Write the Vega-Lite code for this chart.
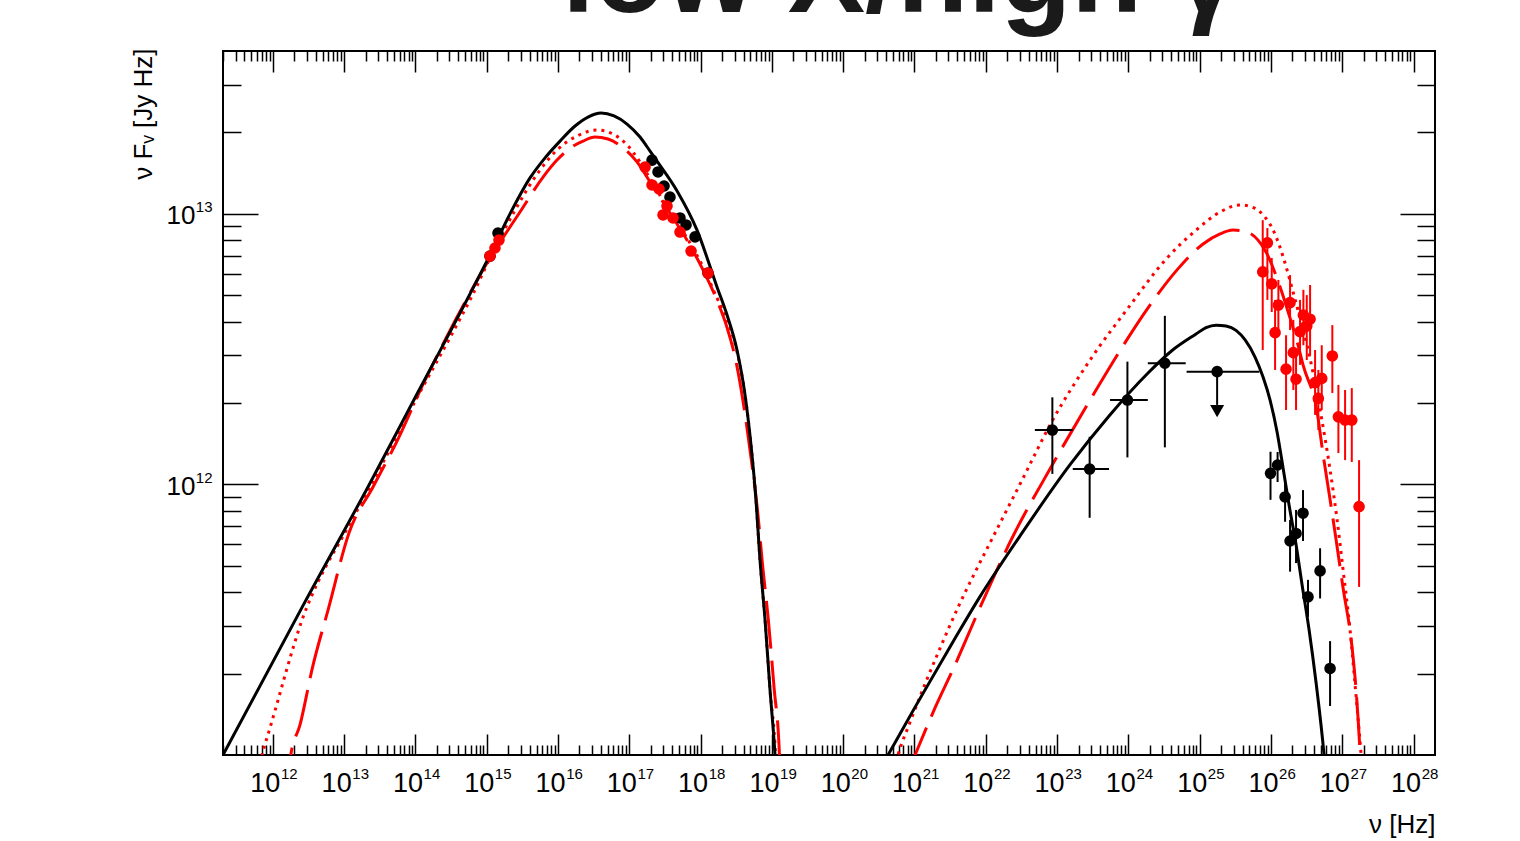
{
  "$schema": "https://vega.github.io/schema/vega-lite/v6.json",
  "width": 1212,
  "height": 704,
  "autosize": {"type": "none"},
  "padding": {"left": 223, "top": 51, "right": 85, "bottom": 86},
  "background": "white",
  "config": {
    "font": "Liberation Sans",
    "view": {"stroke": "black", "strokeWidth": 2},
    "axis": {"domain": false, "grid": false, "labelFont": "Liberation Sans", "labelColor": "black", "tickColor": "black", "tickWidth": 1.5, "titleFont": "Liberation Sans", "titleFontWeight": "normal", "titleColor": "black", "labelOverlap": false, "labelFlush": false, "labelBound": false}
  },
  "datasets": {
    "dashed": [
      {"c":"s","nu":1.660e12,"F":7.08e10},{"c":"s","nu":1.786e12,"F":1e11},{"c":"s","nu":2.404e12,"F":1.291e11},{"c":"s","nu":3.61e12,"F":2.113e11},{"c":"s","nu":6.05e12,"F":3.49e11},{"c":"s","nu":1.17e13,"F":6.62e11},{"c":"s","nu":2.54e13,"F":9.79e11},{"c":"s","nu":5.61e13,"F":1.459e12},{"c":"s","nu":1.225e14,"F":2.29e12},{"c":"s","nu":3.66e14,"F":4.06e12},{"c":"s","nu":1.112e15,"F":6.87e12},{"c":"s","nu":2.93e15,"F":1.016e13},{"c":"s","nu":6.17e15,"F":1.368e13},{"c":"s","nu":9.68e15,"F":1.581e13},{"c":"s","nu":1.472e16,"F":1.750e13},{"c":"s","nu":2.244e16,"F":1.858e13},{"c":"s","nu":3.30e16,"F":1.923e13},{"c":"s","nu":5.02e16,"F":1.892e13},{"c":"s","nu":7.91e16,"F":1.766e13},{"c":"s","nu":1.282e17,"F":1.556e13},{"c":"s","nu":1.954e17,"F":1.312e13},{"c":"s","nu":3.72e17,"F":1.007e13},{"c":"s","nu":6.44e17,"F":8.00e12},{"c":"s","nu":1.081e18,"F":6.21e12},{"c":"s","nu":1.698e18,"F":4.79e12},{"c":"s","nu":2.35e18,"F":3.80e12},{"c":"s","nu":3.162e18,"F":2.818e12},{"c":"s","nu":3.98e18,"F":1.995e12},{"c":"s","nu":5.09e18,"F":1.259e12},{"c":"s","nu":6.31e18,"F":7.94e11},{"c":"s","nu":7.41e18,"F":5.01e11},{"c":"s","nu":8.91e18,"F":3.162e11},{"c":"s","nu":1.072e19,"F":1.778e11},{"c":"s","nu":1.276e19,"F":1e11},{"c":"s","nu":1.343e19,"F":6.82e10},
      {"c":"i","nu":8.11e20,"F":8.65e10},{"c":"i","nu":1.019e21,"F":1e11},{"c":"i","nu":1.941e21,"F":1.493e11},{"c":"i","nu":3.59e21,"F":2.113e11},{"c":"i","nu":8.59e21,"F":3.58e11},{"c":"i","nu":2.339e22,"F":6.34e11},{"c":"i","nu":8.24e22,"F":1.159e12},{"c":"i","nu":2.904e23,"F":2.051e12},{"c":"i","nu":9.91e23,"F":3.48e12},{"c":"i","nu":1.888e24,"F":4.49e12},{"c":"i","nu":4.82e24,"F":6.21e12},{"c":"i","nu":1.117e25,"F":7.74e12},{"c":"i","nu":1.932e25,"F":8.43e12},{"c":"i","nu":2.944e25,"F":8.71e12},{"c":"i","nu":4.62e25,"F":8.57e12},{"c":"i","nu":6.59e25,"F":8.00e12},{"c":"i","nu":8.53e25,"F":7.23e12},{"c":"i","nu":1.343e26,"F":5.37e12},{"c":"i","nu":1.854e26,"F":4.12e12},{"c":"i","nu":2.328e26,"F":3.37e12},{"c":"i","nu":2.825e26,"F":2.761e12},{"c":"i","nu":4.44e26,"F":1.854e12},{"c":"i","nu":5.40e26,"F":1.285e12},{"c":"i","nu":6.76e26,"F":8.77e11},{"c":"i","nu":8.20e26,"F":6.24e11},{"c":"i","nu":1.028e27,"F":4.14e11},{"c":"i","nu":1.374e27,"F":2.495e11},{"c":"i","nu":1.563e27,"F":1.738e11},{"c":"i","nu":1.782e27,"F":1e11},{"c":"i","nu":1.871e27,"F":7.43e10}
    ],
    "dotted": [
      {"c":"s","nu":6.19e11,"F":8.65e10},{"c":"s","nu":7.05e11,"F":1e11},{"c":"s","nu":9.12e11,"F":1.259e11},{"c":"s","nu":1.183e12,"F":1.596e11},{"c":"s","nu":1.531e12,"F":2.028e11},{"c":"s","nu":1.982e12,"F":2.553e11},{"c":"s","nu":2.565e12,"F":3.155e11},{"c":"s","nu":3.54e12,"F":3.90e11},{"c":"s","nu":5.40e12,"F":4.91e11},{"c":"s","nu":9.33e12,"F":6.34e11},{"c":"s","nu":2.307e13,"F":9.79e11},{"c":"s","nu":1.122e14,"F":2.158e12},{"c":"s","nu":3.48e14,"F":3.72e12},{"c":"s","nu":6.43e14,"F":5.06e12},{"c":"s","nu":1.186e15,"F":7.11e12},{"c":"s","nu":2.415e15,"F":1.016e13},{"c":"s","nu":5.08e15,"F":1.403e13},{"c":"s","nu":9.68e15,"F":1.722e13},{"c":"s","nu":1.849e16,"F":1.941e13},{"c":"s","nu":3.52e16,"F":2.042e13},{"c":"s","nu":5.92e16,"F":1.972e13},{"c":"s","nu":9.29e16,"F":1.799e13},{"c":"s","nu":1.413e17,"F":1.556e13},{"c":"s","nu":2.085e17,"F":1.312e13},{"c":"s","nu":3.72e17,"F":1.016e13},{"c":"s","nu":6.44e17,"F":8.15e12},{"c":"s","nu":1.081e18,"F":6.37e12},{"c":"s","nu":1.698e18,"F":4.89e12},{"c":"s","nu":2.35e18,"F":4.06e12},{"c":"s","nu":3.24e18,"F":3.09e12},{"c":"s","nu":4.20e18,"F":2.143e12},{"c":"s","nu":5.09e18,"F":1.400e12},{"c":"s","nu":5.98e18,"F":8.77e11},{"c":"s","nu":6.81e18,"F":5.26e11},{"c":"s","nu":8.02e18,"F":3.155e11},{"c":"s","nu":9.42e18,"F":1.738e11},{"c":"s","nu":1.125e19,"F":1e11},{"c":"s","nu":1.180e19,"F":7.43e10},
      {"c":"i","nu":5.16e20,"F":8.81e10},{"c":"i","nu":5.87e20,"F":1e11},{"c":"i","nu":8.69e20,"F":1.324e11},{"c":"i","nu":1.406e21,"F":1.828e11},{"c":"i","nu":2.286e21,"F":2.483e11},{"c":"i","nu":4.22e21,"F":3.58e11},{"c":"i","nu":7.08e21,"F":4.74e11},{"c":"i","nu":1.265e22,"F":6.40e11},{"c":"i","nu":3.23e22,"F":1.038e12},{"c":"i","nu":8.24e22,"F":1.687e12},{"c":"i","nu":2.904e23,"F":2.884e12},{"c":"i","nu":9.91e23,"F":4.49e12},{"c":"i","nu":3.49e24,"F":6.87e12},{"c":"i","nu":8.91e24,"F":8.71e12},{"c":"i","nu":1.932e25,"F":1.016e13},{"c":"i","nu":3.69e25,"F":1.079e13},{"c":"i","nu":5.79e25,"F":1.052e13},{"c":"i","nu":8.02e25,"F":9.82e12},{"c":"i","nu":1.107e26,"F":8.57e12},{"c":"i","nu":1.528e26,"F":6.76e12},{"c":"i","nu":2.046e26,"F":5.14e12},{"c":"i","nu":2.564e26,"F":4.12e12},{"c":"i","nu":3.21e26,"F":3.27e12},{"c":"i","nu":3.90e26,"F":2.582e12},{"c":"i","nu":4.89e26,"F":1.884e12},{"c":"i","nu":6.76e26,"F":1.130e12},{"c":"i","nu":8.47e26,"F":7.40e11},{"c":"i","nu":1.028e27,"F":4.83e11},{"c":"i","nu":1.288e27,"F":2.897e11},{"c":"i","nu":1.514e27,"F":1.816e11},{"c":"i","nu":1.841e27,"F":1e11},{"c":"i","nu":1.963e27,"F":8.09e10}
    ],
    "solid": [
      {"c":"s","nu":1.585e11,"F":8.91e10},{"c":"s","nu":2.0e11,"F":1e11},{"c":"s","nu":2.825e12,"F":3.68e11},{"c":"s","nu":2.16e13,"F":9.79e11},{"c":"s","nu":1.052e14,"F":2.158e12},{"c":"s","nu":3.155e14,"F":3.72e12},{"c":"s","nu":5.83e14,"F":5.06e12},{"c":"s","nu":1.112e15,"F":7.05e12},{"c":"s","nu":2.12e15,"F":1.0e13},{"c":"s","nu":4.05e15,"F":1.358e13},{"c":"s","nu":6.58e15,"F":1.611e13},{"c":"s","nu":1.067e16,"F":1.858e13},{"c":"s","nu":1.734e16,"F":2.113e13},{"c":"s","nu":2.636e16,"F":2.280e13},{"c":"s","nu":4.01e16,"F":2.36e13},{"c":"s","nu":6.11e16,"F":2.301e13},{"c":"s","nu":9.29e16,"F":2.148e13},{"c":"s","nu":1.413e17,"F":1.923e13},{"c":"s","nu":1.954e17,"F":1.706e13},{"c":"s","nu":2.449e17,"F":1.567e13},{"c":"s","nu":4.68e17,"F":1.216e13},{"c":"s","nu":8.91e17,"F":8.71e12},{"c":"s","nu":1.698e18,"F":5.37e12},{"c":"s","nu":2.35e18,"F":4.23e12},{"c":"s","nu":3.24e18,"F":3.14e12},{"c":"s","nu":4.20e18,"F":2.143e12},{"c":"s","nu":5.09e18,"F":1.400e12},{"c":"s","nu":5.98e18,"F":8.77e11},{"c":"s","nu":6.81e18,"F":5.26e11},{"c":"s","nu":8.02e18,"F":3.155e11},{"c":"s","nu":9.42e18,"F":1.738e11},{"c":"s","nu":1.107e19,"F":1e11},{"c":"s","nu":1.180e19,"F":7.43e10},
      {"c":"i","nu":3.29e20,"F":8.87e10},{"c":"i","nu":4.26e20,"F":1e11},{"c":"i","nu":1.019e21,"F":1.503e11},{"c":"i","nu":3.59e21,"F":2.661e11},{"c":"i","nu":8.05e21,"F":3.80e11},{"c":"i","nu":3.23e22,"F":6.62e11},{"c":"i","nu":1.521e23,"F":1.183e12},{"c":"i","nu":5.36e23,"F":1.791e12},{"c":"i","nu":1.888e24,"F":2.582e12},{"c":"i","nu":4.10e24,"F":3.126e12},{"c":"i","nu":8.89e24,"F":3.597e12},{"c":"i","nu":1.230e25,"F":3.80e12},{"c":"i","nu":1.698e25,"F":3.88e12},{"c":"i","nu":2.344e25,"F":3.85e12},{"c":"i","nu":3.24e25,"F":3.71e12},{"c":"i","nu":4.34e25,"F":3.42e12},{"c":"i","nu":5.98e25,"F":2.958e12},{"c":"i","nu":7.75e25,"F":2.495e12},{"c":"i","nu":9.72e25,"F":2.051e12},{"c":"i","nu":1.219e26,"F":1.563e12},{"c":"i","nu":1.479e26,"F":1.151e12},{"c":"i","nu":1.795e26,"F":8.39e11},{"c":"i","nu":2.254e26,"F":5.97e11},{"c":"i","nu":2.735e26,"F":4.25e11},{"c":"i","nu":3.43e26,"F":2.897e11},{"c":"i","nu":4.30e26,"F":1.845e11},{"c":"i","nu":5.56e26,"F":1e11},{"c":"i","nu":6.12e26,"F":7.43e10}
    ],
    "pts": [
      {"g":"k","nu":1.112e15,"F":6.98e12},{"g":"k","nu":1.439e15,"F":8.49e12},{"g":"k","nu":2.085e17,"F":1.581e13},{"g":"k","nu":2.529e17,"F":1.429e13},{"g":"k","nu":3.07e17,"F":1.268e13},{"g":"k","nu":3.72e17,"F":1.153e13},{"g":"k","nu":5.14e17,"F":9.66e12},{"g":"k","nu":6.25e17,"F":9.10e12},{"g":"k","nu":8.36e17,"F":8.22e12},{"g":"k","nu":1.271e18,"F":6.04e12},
      {"g":"k","nu":8.59e22,"F":1.589e12},{"g":"k","nu":2.864e23,"F":1.140e12},{"g":"k","nu":9.70e23,"F":2.051e12},{"g":"k","nu":3.25e24,"F":2.805e12},{"g":"k","nu":1.758e25,"F":2.612e12},
      {"g":"k","nu":9.86e25,"F":1.099e12},{"g":"k","nu":1.239e26,"F":1.180e12},{"g":"k","nu":1.578e26,"F":8.99e11},{"g":"k","nu":2.818e26,"F":7.83e11},{"g":"k","nu":2.249e26,"F":6.59e11},{"g":"k","nu":1.854e26,"F":6.18e11},{"g":"k","nu":4.89e26,"F":4.79e11},{"g":"k","nu":3.31e26,"F":3.84e11},{"g":"k","nu":6.75e26,"F":2.089e11},
      {"g":"r","nu":1.112e15,"F":6.98e12},{"g":"r","nu":1.306e15,"F":7.48e12},{"g":"r","nu":1.486e15,"F":8.00e12},{"g":"r","nu":1.663e17,"F":1.489e13},{"g":"r","nu":2.085e17,"F":1.279e13},{"g":"r","nu":2.612e17,"F":1.236e13},{"g":"r","nu":3.38e17,"F":1.069e13},{"g":"r","nu":2.972e17,"F":9.91e12},{"g":"r","nu":4.10e17,"F":9.66e12},{"g":"r","nu":5.14e17,"F":8.57e12},{"g":"r","nu":7.35e17,"F":7.29e12},{"g":"r","nu":1.271e18,"F":6.04e12},
      {"g":"r","nu":8.91e25,"F":7.82e12},{"g":"r","nu":7.67e25,"F":6.11e12},{"g":"r","nu":1.026e26,"F":5.51e12},{"g":"r","nu":1.271e26,"F":4.60e12},{"g":"r","nu":1.854e26,"F":4.70e12},{"g":"r","nu":1.143e26,"F":3.64e12},{"g":"r","nu":2.851e26,"F":4.23e12},{"g":"r","nu":3.54e26,"F":4.08e12},{"g":"r","nu":3.18e26,"F":3.85e12},{"g":"r","nu":2.559e26,"F":3.67e12},{"g":"r","nu":2.061e26,"F":3.07e12},{"g":"r","nu":1.629e26,"F":2.667e12},{"g":"r","nu":2.249e26,"F":2.449e12},{"g":"r","nu":4.16e26,"F":2.377e12},{"g":"r","nu":5.16e26,"F":2.466e12},{"g":"r","nu":4.62e26,"F":2.080e12},{"g":"r","nu":7.26e26,"F":2.985e12},{"g":"r","nu":8.83e26,"F":1.778e12},{"g":"r","nu":1.096e27,"F":1.730e12},{"g":"r","nu":1.361e27,"F":1.730e12},{"g":"r","nu":1.722e27,"F":8.28e11}
    ],
    "ebars": [
      {"g":"k","nu":8.59e22,"Flo":1.094e12,"Fhi":2.099e12},{"g":"k","nu":2.864e23,"Flo":7.53e11,"Fhi":1.500e12},{"g":"k","nu":9.70e23,"Flo":1.259e12,"Fhi":2.844e12},{"g":"k","nu":3.25e24,"Flo":1.371e12,"Fhi":4.20e12},
      {"g":"k","nu":9.86e25,"Flo":8.77e11,"Fhi":1.321e12},{"g":"k","nu":1.239e26,"Flo":1.021e12,"Fhi":1.318e12},{"g":"k","nu":1.578e26,"Flo":7.28e11,"Fhi":1.033e12},{"g":"k","nu":2.818e26,"Flo":6.18e11,"Fhi":9.53e11},{"g":"k","nu":2.249e26,"Flo":5.12e11,"Fhi":8.05e11},{"g":"k","nu":1.854e26,"Flo":4.76e11,"Fhi":7.40e11},{"g":"k","nu":4.89e26,"Flo":3.79e11,"Fhi":5.81e11},{"g":"k","nu":3.31e26,"Flo":3.24e11,"Fhi":4.44e11},{"g":"k","nu":6.75e26,"Flo":1.517e11,"Fhi":2.636e11},
      {"g":"r","nu":8.91e25,"Flo":4.81e12,"Fhi":8.87e12},{"g":"r","nu":7.67e25,"Flo":3.14e12,"Fhi":9.48e12},{"g":"r","nu":1.026e26,"Flo":4.34e12,"Fhi":6.87e12},{"g":"r","nu":1.271e26,"Flo":3.72e12,"Fhi":5.70e12},{"g":"r","nu":1.854e26,"Flo":3.72e12,"Fhi":5.94e12},{"g":"r","nu":1.143e26,"Flo":2.65e12,"Fhi":4.81e12},{"g":"r","nu":2.851e26,"Flo":3.27e12,"Fhi":5.24e12},{"g":"r","nu":3.54e26,"Flo":3.01e12,"Fhi":5.46e12},{"g":"r","nu":3.18e26,"Flo":2.884e12,"Fhi":5.01e12},{"g":"r","nu":2.559e26,"Flo":2.767e12,"Fhi":4.81e12},{"g":"r","nu":2.061e26,"Flo":2.234e12,"Fhi":4.06e12},{"g":"r","nu":1.629e26,"Flo":1.884e12,"Fhi":3.56e12},{"g":"r","nu":2.249e26,"Flo":1.884e12,"Fhi":3.14e12},{"g":"r","nu":4.16e26,"Flo":1.807e12,"Fhi":3.14e12},{"g":"r","nu":5.16e26,"Flo":1.884e12,"Fhi":3.27e12},{"g":"r","nu":4.62e26,"Flo":1.589e12,"Fhi":2.65e12},{"g":"r","nu":7.26e26,"Flo":2.178e12,"Fhi":3.88e12},{"g":"r","nu":8.83e26,"Flo":1.306e12,"Fhi":2.333e12},{"g":"r","nu":1.096e27,"Flo":1.230e12,"Fhi":2.234e12},{"g":"r","nu":1.361e27,"Flo":1.211e12,"Fhi":2.270e12},{"g":"r","nu":1.722e27,"Flo":4.18e11,"Fhi":1.230e12}
    ],
    "xbars": [
      {"F":1.589e12,"nulo":4.88e22,"nuhi":1.660e23},{"F":1.140e12,"nulo":1.660e23,"nuhi":5.36e23},{"F":2.051e12,"nulo":5.53e23,"nuhi":1.875e24},{"F":2.805e12,"nulo":1.875e24,"nuhi":6.37e24},{"F":2.612e12,"nulo":6.56e24,"nuhi":6.87e25}
    ],
    "ul": [{"nu":1.758e25,"F":2.612e12,"Fend":1.968e12,"Ftip":1.866e12}]
  },
  "resolve": {"axis": {"x": "independent", "y": "independent"}},
  "layer": [
    {
      "data": {"name": "dashed"},
      "mark": {"type": "line", "clip": true, "color": "#ff0000", "strokeWidth": 3, "strokeDash": [48, 12], "interpolate": "monotone"},
      "encoding": {
        "x": {"field": "nu", "type": "quantitative", "scale": {"type": "log", "domain": [2e11, 2e28], "nice": false},
          "axis": {"orient": "bottom", "values": [1e12,1e13,1e14,1e15,1e16,1e17,1e18,1e19,1e20,1e21,1e22,1e23,1e24,1e25,1e26,1e27,1e28], "labelExpr": "'10'", "labelFontSize": 27, "labelOffset": -8, "labelPadding": 15, "ticks": false,
            "title": "ν [Hz]", "titleX": 1212, "titleY": 77, "titleAlign": "right", "titleBaseline": "alphabetic", "titleAngle": 0, "titleFontSize": 26}},
        "y": {"field": "F", "type": "quantitative", "scale": {"type": "log", "domain": [1e11, 4e13], "nice": false},
          "axis": {"orient": "left", "values": [1e12, 1e13], "labelExpr": "'10'", "labelFontSize": 26, "labelPadding": 28, "labelOffset": 2, "ticks": false,
            "title": "ν Fᵥ [Jy Hz]", "titleX": -80, "titleY": -3, "titleAlign": "right", "titleBaseline": "middle", "titleAngle": 270, "titleFontSize": 26}},
        "detail": {"field": "c"}
      }
    },
    {
      "data": {"name": "dotted"},
      "mark": {"type": "line", "clip": true, "color": "#ff0000", "strokeWidth": 3, "strokeDash": [3, 5], "interpolate": "monotone"},
      "encoding": {
        "x": {"field": "nu", "type": "quantitative", "scale": {"type": "log", "domain": [2e11, 2e28], "nice": false},
          "axis": {"orient": "bottom", "values": [1e12,1e13,1e14,1e15,1e16,1e17,1e18,1e19,1e20,1e21,1e22,1e23,1e24,1e25,1e26,1e27,1e28], "labelExpr": "format(log(datum.value)/LN10, '.0f')", "labelFontSize": 15, "labelOffset": 16, "labelPadding": 11, "ticks": false, "title": null}},
        "y": {"field": "F", "type": "quantitative", "scale": {"type": "log", "domain": [1e11, 4e13], "nice": false},
          "axis": {"orient": "left", "values": [1e12, 1e13], "labelExpr": "format(log(datum.value)/LN10, '.0f')", "labelFontSize": 15, "labelPadding": 11, "labelOffset": -7, "ticks": false, "title": null}},
        "detail": {"field": "c"}
      }
    },
    {
      "data": {"name": "solid"},
      "mark": {"type": "line", "clip": true, "color": "#000000", "strokeWidth": 3, "interpolate": "monotone"},
      "encoding": {
        "x": {"field": "nu", "type": "quantitative", "scale": {"type": "log", "domain": [2e11, 2e28], "nice": false},
          "axis": {"orient": "bottom", "values": [1e12,1e13,1e14,1e15,1e16,1e17,1e18,1e19,1e20,1e21,1e22,1e23,1e24,1e25,1e26,1e27,1e28], "labels": false, "tickSize": -21, "title": null}},
        "y": {"field": "F", "type": "quantitative", "scale": {"type": "log", "domain": [1e11, 4e13], "nice": false},
          "axis": {"orient": "left", "values": [1e12, 1e13], "labels": false, "tickSize": -35, "title": null}},
        "detail": {"field": "c"}
      }
    },
    {
      "data": {"name": "ebars"},
      "mark": {"type": "rule", "clip": true, "strokeWidth": 2},
      "encoding": {
        "x": {"field": "nu", "type": "quantitative", "scale": {"type": "log", "domain": [2e11, 2e28], "nice": false},
          "axis": {"orient": "bottom", "values": [2e11,3e11,4e11,5e11,6e11,7e11,8e11,9e11,2e12,3e12,4e12,5e12,6e12,7e12,8e12,9e12,2e13,3e13,4e13,5e13,6e13,7e13,8e13,9e13,2e14,3e14,4e14,5e14,6e14,7e14,8e14,9e14,2e15,3e15,4e15,5e15,6e15,7e15,8e15,9e15,2e16,3e16,4e16,5e16,6e16,7e16,8e16,9e16,2e17,3e17,4e17,5e17,6e17,7e17,8e17,9e17,2e18,3e18,4e18,5e18,6e18,7e18,8e18,9e18,2e19,3e19,4e19,5e19,6e19,7e19,8e19,9e19,2e20,3e20,4e20,5e20,6e20,7e20,8e20,9e20,2e21,3e21,4e21,5e21,6e21,7e21,8e21,9e21,2e22,3e22,4e22,5e22,6e22,7e22,8e22,9e22,2e23,3e23,4e23,5e23,6e23,7e23,8e23,9e23,2e24,3e24,4e24,5e24,6e24,7e24,8e24,9e24,2e25,3e25,4e25,5e25,6e25,7e25,8e25,9e25,2e26,3e26,4e26,5e26,6e26,7e26,8e26,9e26,2e27,3e27,4e27,5e27,6e27,7e27,8e27,9e27], "labels": false, "tickSize": -10, "title": null}},
        "y": {"field": "Flo", "type": "quantitative", "scale": {"type": "log", "domain": [1e11, 4e13], "nice": false},
          "axis": {"orient": "left", "values": [2e11,3e11,4e11,5e11,6e11,7e11,8e11,9e11,2e12,3e12,4e12,5e12,6e12,7e12,8e12,9e12,2e13,3e13], "labels": false, "tickSize": -18, "title": null}},
        "y2": {"field": "Fhi"},
        "color": {"field": "g", "type": "nominal", "scale": {"domain": ["k", "r"], "range": ["#000000", "#ff0000"]}, "legend": null}
      }
    },
    {
      "data": {"name": "xbars"},
      "mark": {"type": "rule", "clip": true, "strokeWidth": 2, "color": "#000000"},
      "encoding": {
        "x": {"field": "nulo", "type": "quantitative", "scale": {"type": "log", "domain": [2e11, 2e28], "nice": false},
          "axis": {"orient": "top", "values": [1e12,1e13,1e14,1e15,1e16,1e17,1e18,1e19,1e20,1e21,1e22,1e23,1e24,1e25,1e26,1e27,1e28], "labels": false, "tickSize": -21,
            "title": "low X/high γ", "titleX": 677, "titleY": -40, "titleAlign": "center", "titleBaseline": "alphabetic", "titleAngle": 0, "titleFontSize": 116, "titleFontWeight": "bold", "titleColor": "#1a1a1a"}},
        "x2": {"field": "nuhi"},
        "y": {"field": "F", "type": "quantitative", "scale": {"type": "log", "domain": [1e11, 4e13], "nice": false},
          "axis": {"orient": "right", "values": [1e12, 1e13], "labels": false, "tickSize": -35, "title": null}}
      }
    },
    {
      "data": {"name": "ul"},
      "mark": {"type": "rule", "clip": true, "strokeWidth": 2, "color": "#000000"},
      "encoding": {
        "x": {"field": "nu", "type": "quantitative", "scale": {"type": "log", "domain": [2e11, 2e28], "nice": false},
          "axis": {"orient": "top", "values": [2e11,3e11,4e11,5e11,6e11,7e11,8e11,9e11,2e12,3e12,4e12,5e12,6e12,7e12,8e12,9e12,2e13,3e13,4e13,5e13,6e13,7e13,8e13,9e13,2e14,3e14,4e14,5e14,6e14,7e14,8e14,9e14,2e15,3e15,4e15,5e15,6e15,7e15,8e15,9e15,2e16,3e16,4e16,5e16,6e16,7e16,8e16,9e16,2e17,3e17,4e17,5e17,6e17,7e17,8e17,9e17,2e18,3e18,4e18,5e18,6e18,7e18,8e18,9e18,2e19,3e19,4e19,5e19,6e19,7e19,8e19,9e19,2e20,3e20,4e20,5e20,6e20,7e20,8e20,9e20,2e21,3e21,4e21,5e21,6e21,7e21,8e21,9e21,2e22,3e22,4e22,5e22,6e22,7e22,8e22,9e22,2e23,3e23,4e23,5e23,6e23,7e23,8e23,9e23,2e24,3e24,4e24,5e24,6e24,7e24,8e24,9e24,2e25,3e25,4e25,5e25,6e25,7e25,8e25,9e25,2e26,3e26,4e26,5e26,6e26,7e26,8e26,9e26,2e27,3e27,4e27,5e27,6e27,7e27,8e27,9e27], "labels": false, "tickSize": -10, "title": null}},
        "y": {"field": "F", "type": "quantitative", "scale": {"type": "log", "domain": [1e11, 4e13], "nice": false},
          "axis": {"orient": "right", "values": [2e11,3e11,4e11,5e11,6e11,7e11,8e11,9e11,2e12,3e12,4e12,5e12,6e12,7e12,8e12,9e12,2e13,3e13], "labels": false, "tickSize": -18, "title": null}},
        "y2": {"field": "Fend"}
      }
    },
    {
      "data": {"name": "ul"},
      "mark": {"type": "point", "shape": "triangle-down", "filled": true, "opacity": 1, "size": 196, "color": "#000000", "clip": true},
      "encoding": {
        "x": {"field": "nu", "type": "quantitative", "scale": {"type": "log", "domain": [2e11, 2e28], "nice": false}, "axis": null},
        "y": {"field": "Ftip", "type": "quantitative", "scale": {"type": "log", "domain": [1e11, 4e13], "nice": false}, "axis": null}
      }
    },
    {
      "data": {"name": "pts"},
      "mark": {"type": "circle", "size": 135, "opacity": 1, "clip": true},
      "encoding": {
        "x": {"field": "nu", "type": "quantitative", "scale": {"type": "log", "domain": [2e11, 2e28], "nice": false}, "axis": null},
        "y": {"field": "F", "type": "quantitative", "scale": {"type": "log", "domain": [1e11, 4e13], "nice": false}, "axis": null},
        "color": {"field": "g", "type": "nominal", "scale": {"domain": ["k", "r"], "range": ["#000000", "#ff0000"]}, "legend": null}
      }
    }
  ]
}
